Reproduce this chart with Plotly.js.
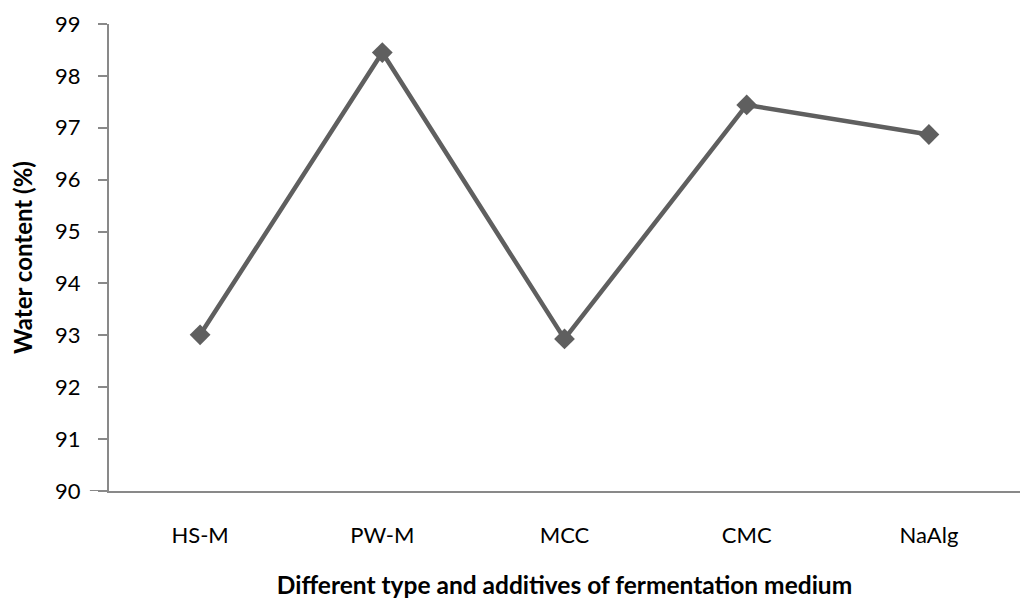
<!DOCTYPE html>
<html>
<head>
<meta charset="utf-8">
<script src="https://cdn.plot.ly/plotly-3.0.1.min.js"></script>
<style>html,body{margin:0;padding:0;background:#fff;}#chart{width:1024px;height:599px;}</style>
</head>
<body>
<div id="chart"></div>
<script>
const categories = ["HS-M", "PW-M", "MCC", "CMC", "NaAlg"];
const waterContent = [93.01, 98.45, 92.93, 97.44, 96.87];
const yTickValues = [90, 91, 92, 93, 94, 95, 96, 97, 98, 99];

const FONT = "Lato, 'Open Sans', 'Liberation Sans', sans-serif";

const trace = {
  x: categories,
  y: waterContent,
  type: "scatter",
  mode: "lines+markers",
  line: {color: "#5f5f5f", width: 4.5},
  marker: {symbol: "diamond", size: 16, color: "#5f5f5f"},
  cliponaxis: false,
  hoverinfo: "x+y"
};

const layout = {
  width: 1024,
  height: 599,
  margin: {l: 109, r: 4, t: 24, b: 108},
  paper_bgcolor: "#ffffff",
  plot_bgcolor: "#ffffff",
  showlegend: false,
  font: {family: FONT, size: 22, color: "#000000"},
  xaxis: {
    type: "category",
    range: [-0.5, 4.5],
    showgrid: false,
    zeroline: false,
    showline: true,
    linecolor: "#898989",
    linewidth: 2,
    ticks: "",
    ticklabelstandoff: 24,
    tickfont: {family: FONT, size: 22, color: "#000"},
    title: {text: "<b>Different type and additives of fermentation medium</b>", font: {family: FONT, size: 24.5, color: "#000"}, standoff: 36}
  },
  yaxis: {
    range: [90, 99],
    tickvals: yTickValues,
    showgrid: false,
    zeroline: false,
    showline: true,
    linecolor: "#898989",
    linewidth: 2,
    ticks: "outside",
    ticklen: 9,
    tickwidth: 2,
    tickcolor: "#898989",
    ticklabelstandoff: 13,
    tickfont: {family: FONT, size: 22, color: "#000"},
    title: {text: "<b>Water content (%)</b>", font: {family: FONT, size: 24, color: "#000"}, standoff: 16}
  },
  shapes: [
    {type: "line", xref: "paper", yref: "y", x0: -0.021, x1: 0, y0: 90, y1: 90, line: {color: "#898989", width: 2}}
  ]
};

Plotly.newPlot("chart", [trace], layout, {displayModeBar: false, staticPlot: true});
</script>
</body>
</html>
